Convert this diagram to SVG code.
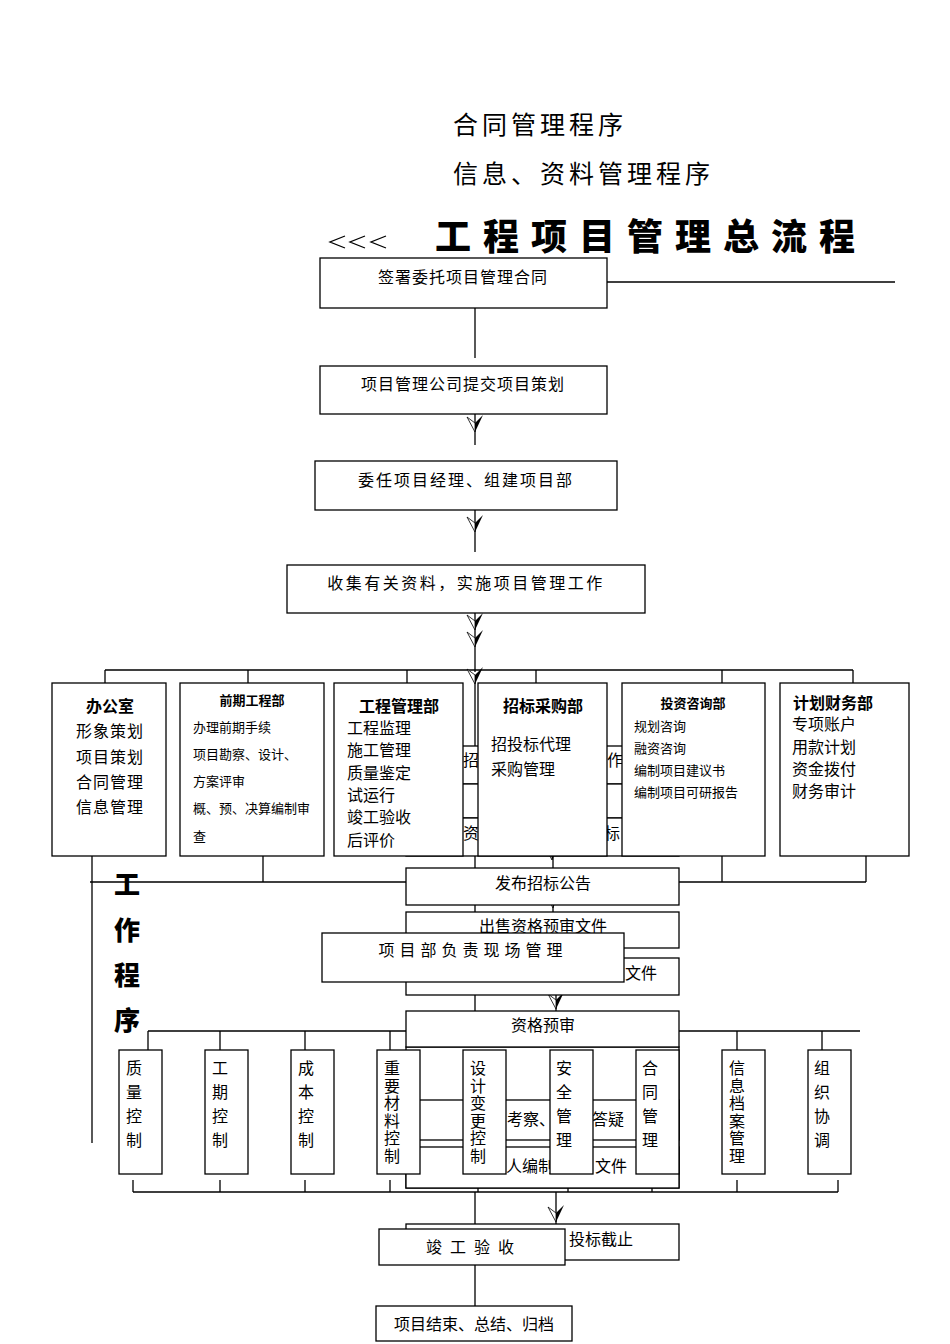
<svg xmlns="http://www.w3.org/2000/svg" width="950" height="1344" viewBox="0 0 950 1344">
<defs>
<style>
text{font-family:"Noto Sans CJK SC","Noto Sans",sans-serif;fill:#000}
.b{fill:#fff;stroke:#000;stroke-width:1.3}
.l{stroke:#000;stroke-width:1.3;fill:none}
.t16{font-size:16px}
.t13{font-size:13px}
.h{font-weight:bold}
.c{text-anchor:middle}
.big{font-size:36px;font-weight:900;letter-spacing:12px}
.tt{font-size:25px;letter-spacing:4px}
.v{writing-mode:vertical-rl;font-size:16px;letter-spacing:8px}
.v6{writing-mode:vertical-rl;font-size:16px;letter-spacing:1.5px}
</style>
<g id="ah"><path d="M0,0 L-8,-15 L0,-9 Z" fill="#fff" stroke="#000" stroke-width="0.8"/><path d="M0,0 L8,-17 L0,-9 Z" fill="#000"/></g>
</defs>
<rect width="950" height="1344" fill="#fff"/>
<g id="titles">
<text x="453" y="134" class="tt">合同管理程序</text>
<text x="453" y="183" class="tt">信息、资料管理程序</text>
<path class="l" d="M345,236 L330,242 L345,248 M365,236 L350,242 L365,248 M386,236 L371,242 L386,248" stroke-width="2"/>
<text x="435" y="250" class="big">工程项目管理总流程</text>
<text x="127" y="894" class="c" style="font-size:26px;font-weight:900">工</text>
<text x="127" y="940" class="c" style="font-size:26px;font-weight:900">作</text>
<text x="127" y="985" class="c" style="font-size:26px;font-weight:900">程</text>
<text x="127" y="1030" class="c" style="font-size:26px;font-weight:900">序</text>
</g>
<g id="connectors">
<path class="l" d="M607,282 H895 M475,308 V358 M475,414 V445 M475,510 V552 M475,613 V672 M105,670 H853 M105,670 V683 M248,670 V683 M407,670 V683 M536,670 V683 M722,670 V683 M853,670 V683"/>
<path class="l" d="M92,856 V1143 M90,882 H866 M263,856 V882 M722,856 V882 M866,856 V882 M475,682 V1050 M553,856 V868 M553,905 V912 M556,995 V1011 M475,982 V1050"/>
<path class="l" d="M148,1031 H860 M148,1031 V1050 M220,1031 V1050 M305,1031 V1050 M390,1031 V1050 M478,1031 V1050 M568,1031 V1050 M652,1031 V1050 M737,1031 V1050 M822,1031 V1050"/>
<path class="l" d="M133,1192 H838 M133,1180 V1192 M220,1180 V1192 M305,1180 V1192 M390,1180 V1192 M478,1180 V1192 M568,1180 V1192 M652,1180 V1192 M737,1180 V1192 M838,1180 V1192 M475,1192 V1229 M556,1192 V1224 M475,1265 V1306"/>
<use href="#ah" x="475" y="432"/>
<use href="#ah" x="475" y="532"/>
<use href="#ah" x="475" y="630"/>
<use href="#ah" x="475" y="647"/>
<use href="#ah" x="475" y="684"/>
<use href="#ah" x="475" y="812"/>
<use href="#ah" x="552" y="860"/>
<use href="#ah" x="553" y="908"/>
<use href="#ah" x="556" y="1009"/>
<use href="#ah" x="556" y="1222"/>
</g>
<g id="hidden-flow">
<rect class="b" x="406" y="746" width="273" height="38"/>
<text x="463" y="766" class="t16">招</text><text x="607" y="766" class="t16">作</text>
<rect class="b" x="406" y="784" width="273" height="34"/>
<rect class="b" x="406" y="818" width="273" height="38"/>
<text x="463" y="839" class="t16">资</text><text x="604" y="839" class="t16">标</text>
<rect class="b" x="406" y="1047" width="273" height="141"/>
<rect class="b" x="406" y="1100" width="273" height="40"/>
<text x="507" y="1125" class="t16">考察、</text><text x="592" y="1125" class="t16">答疑</text>
<rect class="b" x="406" y="1147" width="273" height="41"/>
<text x="506" y="1172" class="t16">人编制</text><text x="595" y="1172" class="t16">文件</text>
</g>
<g id="n1"><rect class="b" x="320" y="258" width="287" height="50"/><text x="463" y="283" class="t16 c" style="letter-spacing:1px">签署委托项目管理合同</text></g>
<g id="n2"><rect class="b" x="320" y="366" width="287" height="48"/><text x="463" y="390" class="t16 c" style="letter-spacing:1px">项目管理公司提交项目策划</text></g>
<g id="n3"><rect class="b" x="315" y="461" width="302" height="49"/><text x="466" y="486" class="t16 c" style="letter-spacing:2px">委任项目经理、组建项目部</text></g>
<g id="n4"><rect class="b" x="287" y="565" width="358" height="48"/><text x="466" y="589" class="t16 c" style="letter-spacing:2.5px">收集有关资料，实施项目管理工作</text></g>
<g id="d1"><rect class="b" x="52" y="683" width="114" height="173"/>
<text x="110" y="712" class="t16 c h">办公室</text>
<text x="110" y="737" class="t16 c" style="letter-spacing:1px">形象策划</text><text x="110" y="763" class="t16 c" style="letter-spacing:1px">项目策划</text><text x="110" y="788" class="t16 c" style="letter-spacing:1px">合同管理</text><text x="110" y="813" class="t16 c" style="letter-spacing:1px">信息管理</text></g>
<g id="d2"><rect class="b" x="180" y="683" width="144" height="173"/>
<text x="252" y="705" class="t13 c h">前期工程部</text>
<text x="193" y="732" class="t13">办理前期手续</text><text x="193" y="759" class="t13">项目勘察、设计、</text><text x="193" y="786" class="t13">方案评审</text><text x="193" y="813" class="t13">概、预、决算编制审</text><text x="193" y="841" class="t13">查</text></g>
<g id="d3"><rect class="b" x="334" y="683" width="129" height="173"/>
<text x="399" y="712" class="t16 c h">工程管理部</text>
<text x="347" y="734" class="t16">工程监理</text><text x="347" y="756" class="t16">施工管理</text><text x="347" y="779" class="t16">质量鉴定</text><text x="347" y="801" class="t16">试运行</text><text x="347" y="823" class="t16">竣工验收</text><text x="347" y="846" class="t16">后评价</text></g>
<g id="d4"><rect class="b" x="478" y="683" width="129" height="173"/>
<text x="543" y="712" class="t16 c h">招标采购部</text>
<text x="491" y="750" class="t16">招投标代理</text><text x="491" y="775" class="t16">采购管理</text></g>
<g id="d5"><rect class="b" x="622" y="683" width="143" height="173"/>
<text x="693" y="708" class="t13 c h">投资咨询部</text>
<text x="634" y="731" class="t13">规划咨询</text><text x="634" y="753" class="t13">融资咨询</text><text x="634" y="775" class="t13">编制项目建议书</text><text x="634" y="797" class="t13">编制项目可研报告</text></g>
<g id="d6"><rect class="b" x="780" y="683" width="129" height="173"/>
<text x="833" y="709" class="t16 c h">计划财务部</text>
<text x="792" y="730" class="t16">专项账户</text><text x="792" y="753" class="t16">用款计划</text><text x="792" y="775" class="t16">资金拨付</text><text x="792" y="797" class="t16">财务审计</text></g>
<g id="f1"><rect class="b" x="406" y="868" width="273" height="37"/><text x="543" y="889" class="t16 c">发布招标公告</text></g>
<g id="f2"><rect class="b" x="406" y="912" width="273" height="36"/><text x="543" y="932" class="t16 c">出售资格预审文件</text></g>
<g id="f3"><rect class="b" x="406" y="958" width="273" height="37"/><text x="625" y="979" class="t16">文件</text></g>
<g id="pm"><rect class="b" x="322" y="933" width="302" height="49"/><text x="473" y="956" class="t16 c" style="letter-spacing:5px">项目部负责现场管理</text></g>
<g id="f4"><rect class="b" x="406" y="1011" width="273" height="36"/><text x="543" y="1031" class="t16 c">资格预审</text></g>
<g id="controls">
<g id="c1"><rect class="b" x="119" y="1050" width="43" height="124"/><text x="134" y="1060" class="v">质量控制</text></g>
<g id="c2"><rect class="b" x="205" y="1050" width="43" height="124"/><text x="220" y="1060" class="v">工期控制</text></g>
<g id="c3"><rect class="b" x="291" y="1050" width="43" height="124"/><text x="306" y="1060" class="v">成本控制</text></g>
<g id="c4"><rect class="b" x="377" y="1050" width="43" height="124"/><text x="392" y="1060" class="v6">重要材料控制</text></g>
<g id="c5"><rect class="b" x="463" y="1050" width="43" height="124"/><text x="478" y="1060" class="v6">设计变更控制</text></g>
<g id="c6"><rect class="b" x="550" y="1050" width="43" height="124"/><text x="564" y="1060" class="v">安全管理</text></g>
<g id="c7"><rect class="b" x="636" y="1050" width="43" height="124"/><text x="650" y="1060" class="v">合同管理</text></g>
<g id="c8"><rect class="b" x="722" y="1050" width="43" height="124"/><text x="737" y="1060" class="v6">信息档案管理</text></g>
<g id="c9"><rect class="b" x="808" y="1050" width="43" height="124"/><text x="822" y="1060" class="v">组织协调</text></g>
</g>
<g id="f5"><rect class="b" x="406" y="1224" width="273" height="36"/><text x="569" y="1245" class="t16">投标截止</text></g>
<g id="n5"><rect class="b" x="379" y="1229" width="186" height="36"/><text x="474" y="1253" class="t16 c" style="letter-spacing:8px">竣工验收</text></g>
<g id="n6"><rect class="b" x="376" y="1306" width="196" height="35"/><text x="474" y="1330" class="t16 c">项目结束、总结、归档</text></g>
</svg>
